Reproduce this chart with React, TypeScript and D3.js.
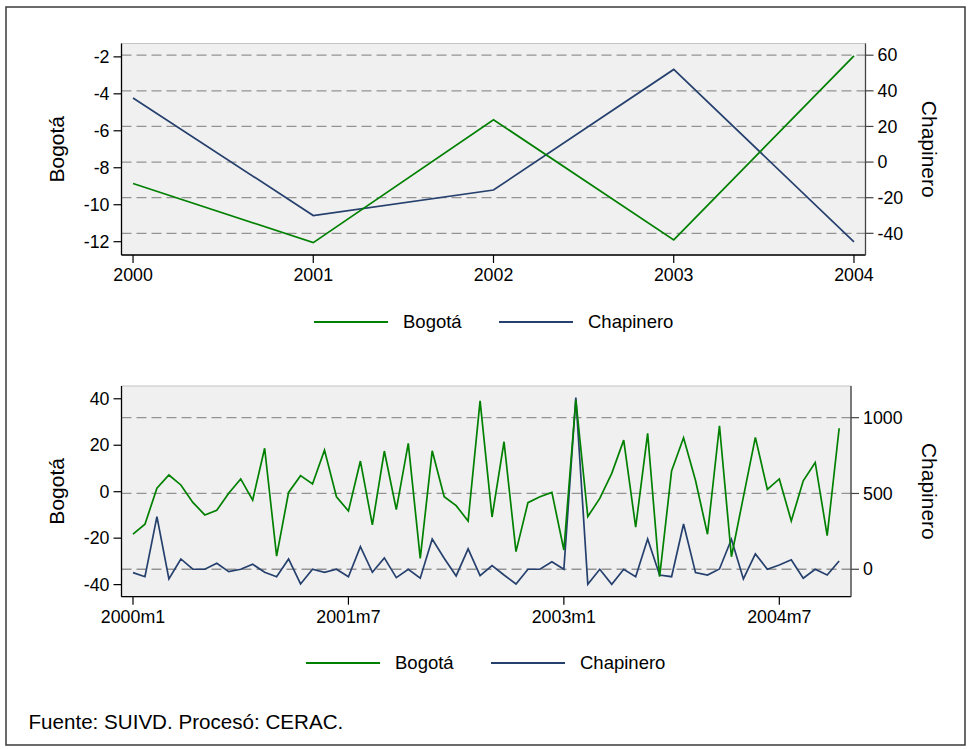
import React from 'react';
import * as d3 from 'd3';

const years = [2000, 2001, 2002, 2003, 2004];
const bogotaAnnual = [-8.85, -12.05, -5.4, -11.9, -1.95];
const chapineroAnnual = [36, -30, -15.7, 52, -44.8];
const annualLeftTicks = [-2, -4, -6, -8, -10, -12];
const annualRightTicks = [60, 40, 20, 0, -20, -40];

const monthTickIdx = [0, 18, 36, 54];
const monthTickLabels = ['2000m1', '2001m7', '2003m1', '2004m7'];
const monthlyLeftTicks = [40, 20, 0, -20, -40];
const monthlyRightTicks = [1000, 500, 0];

const bogotaMonthly = [
  -18.3, -14.0, 1.5, 7.2, 2.9, -4.6, -10.0, -8.0, -0.7, 5.5, -3.6, 18.7,
  -27.7, -0.3, 6.9, 3.3, 17.9, -2.2, -8.3, 13.2, -14.3, 17.5, -7.7, 20.8,
  -28.7, 17.6, -2.2, -6.0, -12.6, 39.1, -10.9, 21.5, -25.8, -4.7, -2.2, -0.3,
  -25.1, 39.5, -10.7, -2.9, 7.9, 22.2, -15.3, 25.1, -36.6, 8.9, 23.2, 4.8,
  -18.3, 28.4, -28.0, -2.2, 23.4, 1.0, 5.5, -12.6, 4.7, 12.6, -18.9, 27.3,
];
const chapineroMonthly = [
  -22, -49, 347, -64, 68, 0, 0, 40, -16, 0, 33, -20,
  -49, 68, -97, 0, -20, 0, -49, 149, -20, 75, -55, 0,
  -59, 200, 73, -44, 134, -42, 24, -38, -97, 0, 0, 50,
  0, 1132, -99, 0, -99, 0, -49, 200, -38, -49, 299, -22,
  -38, 2, 198, -64, 101, 0, 28, 63, -59, 0, -38, 55,
];

const GREEN = '#008000';
const NAVY = '#26406e';
const FONT = '"Liberation Sans", Arial, sans-serif';
const TICK_FS = 17.8;

function Panel(props: {
  x0: number; x1: number; y0: number; y1: number;
  xScale: (v: number) => number;
  xTicks: number[]; xLabels: string[];
  yL: d3.ScaleLinear<number, number>; yR: d3.ScaleLinear<number, number>;
  leftTicks: number[]; rightTicks: number[];
  xs: number[]; left: number[]; right: number[];
}) {
  const { x0, x1, y0, y1, xScale, xTicks, xLabels, yL, yR, leftTicks, rightTicks, xs, left, right } = props;
  const lineL = d3.line<number>().x((_, i) => xScale(xs[i])).y((d) => yL(d));
  const lineR = d3.line<number>().x((_, i) => xScale(xs[i])).y((d) => yR(d));
  const ymid = (y0 + y1) / 2;
  return (
    <g>
      <rect x={x0} y={y0} width={x1 - x0} height={y1 - y0} fill="#f0f0f0" stroke="#c4c4c4" strokeWidth={1} />
      {rightTicks.map((t) => (
        <line key={'g' + t} x1={x0} x2={x1} y1={yR(t)} y2={yR(t)} stroke="#939393" strokeWidth={1.3} strokeDasharray="10 5" />
      ))}
      <path d={lineR(right) || ''} fill="none" stroke={NAVY} strokeWidth={1.7} strokeLinejoin="miter" />
      <path d={lineL(left) || ''} fill="none" stroke={GREEN} strokeWidth={1.7} strokeLinejoin="miter" />
      <line x1={x0} x2={x0} y1={y0} y2={y1} stroke="#000" strokeWidth={1.3} />
      <line x1={x0} x2={x1} y1={y1} y2={y1} stroke="#000" strokeWidth={1.3} />
      <line x1={x1} x2={x1} y1={y0} y2={y1} stroke="#444" strokeWidth={1.3} />
      {leftTicks.map((t) => (
        <g key={'l' + t}>
          <line x1={x0 - 8} x2={x0} y1={yL(t)} y2={yL(t)} stroke="#000" strokeWidth={1.2} />
          <text x={x0 - 12} y={yL(t)} dy="0.35em" textAnchor="end" fontSize={TICK_FS} fontFamily={FONT} fill="#000">{t}</text>
        </g>
      ))}
      {rightTicks.map((t) => (
        <g key={'r' + t}>
          <line x1={x1} x2={x1 + 8} y1={yR(t)} y2={yR(t)} stroke="#444" strokeWidth={1.2} />
          <text x={x1 + 12} y={yR(t)} dy="0.35em" textAnchor="start" fontSize={TICK_FS} fontFamily={FONT} fill="#000">{t}</text>
        </g>
      ))}
      {xTicks.map((t, i) => (
        <g key={'x' + t}>
          <line x1={xScale(t)} x2={xScale(t)} y1={y1} y2={y1 + 8} stroke="#000" strokeWidth={1.2} />
          <text x={xScale(t)} y={y1 + 26} textAnchor="middle" fontSize={TICK_FS} fontFamily={FONT} fill="#000">{xLabels[i]}</text>
        </g>
      ))}
      <text transform={`translate(64,${ymid}) rotate(-90)`} textAnchor="middle" fontSize={21} fontFamily={FONT} fill="#000">Bogotá</text>
      <text transform={`translate(922,${ymid}) rotate(90)`} textAnchor="middle" fontSize={21} fontFamily={FONT} fill="#000">Chapinero</text>
    </g>
  );
}

function Legend(props: { x: number; y: number }) {
  const { x, y } = props;
  return (
    <g>
      <line x1={x} x2={x + 74} y1={y} y2={y} stroke={GREEN} strokeWidth={1.8} />
      <text x={x + 89} y={y} dy="0.35em" fontSize={18.5} fontFamily={FONT} fill="#000">Bogotá</text>
      <line x1={x + 185} x2={x + 259} y1={y} y2={y} stroke={NAVY} strokeWidth={1.8} />
      <text x={x + 274} y={y} dy="0.35em" fontSize={18.5} fontFamily={FONT} fill="#000">Chapinero</text>
    </g>
  );
}

export default function App() {
  const tx0 = 121.5, tx1 = 865.5, ty0 = 43.5, ty1 = 255;
  const xA = d3.scaleLinear().domain([2000 - 0.064, 2004 + 0.064]).range([tx0, tx1]);
  const yAL = d3.scaleLinear().domain([-12.72, -1.277]).range([ty1, ty0]);
  const yAR = d3.scaleLinear().domain([-52.17, 66.56]).range([ty1, ty0]);

  const bx0 = 121.5, bx1 = 851, by0 = 386, by1 = 596.7;
  const monthIdx = bogotaMonthly.map((_, i) => i);
  const xM = d3.scaleLinear().domain([-0.96, 59.99]).range([bx0, bx1]);
  const yML = d3.scaleLinear().domain([-45.2, 45.5]).range([by1, by0]);
  const yMR = d3.scaleLinear().domain([-181, 1209]).range([by1, by0]);

  return (
    <div style={{ position: 'absolute', left: 0, top: 0 }}>
      <svg width={969} height={749} style={{ display: 'block', background: '#fff' }}>
        <rect x={6} y={7} width={959} height={738} fill="#fff" stroke="#3a3a3a" strokeWidth={1.5} />
        <Panel x0={tx0} x1={tx1} y0={ty0} y1={ty1} xScale={xA}
          xTicks={years} xLabels={years.map(String)}
          yL={yAL} yR={yAR} leftTicks={annualLeftTicks} rightTicks={annualRightTicks}
          xs={years} left={bogotaAnnual} right={chapineroAnnual} />
        <Legend x={314} y={322} />
        <Panel x0={bx0} x1={bx1} y0={by0} y1={by1} xScale={xM}
          xTicks={monthTickIdx} xLabels={monthTickLabels}
          yL={yML} yR={yMR} leftTicks={monthlyLeftTicks} rightTicks={monthlyRightTicks}
          xs={monthIdx} left={bogotaMonthly} right={chapineroMonthly} />
        <Legend x={306} y={663} />
        <text x={28.5} y={729} fontSize={20.6} fontFamily={FONT} fill="#000">Fuente: SUIVD. Procesó: CERAC.</text>
      </svg>
    </div>
  );
}
